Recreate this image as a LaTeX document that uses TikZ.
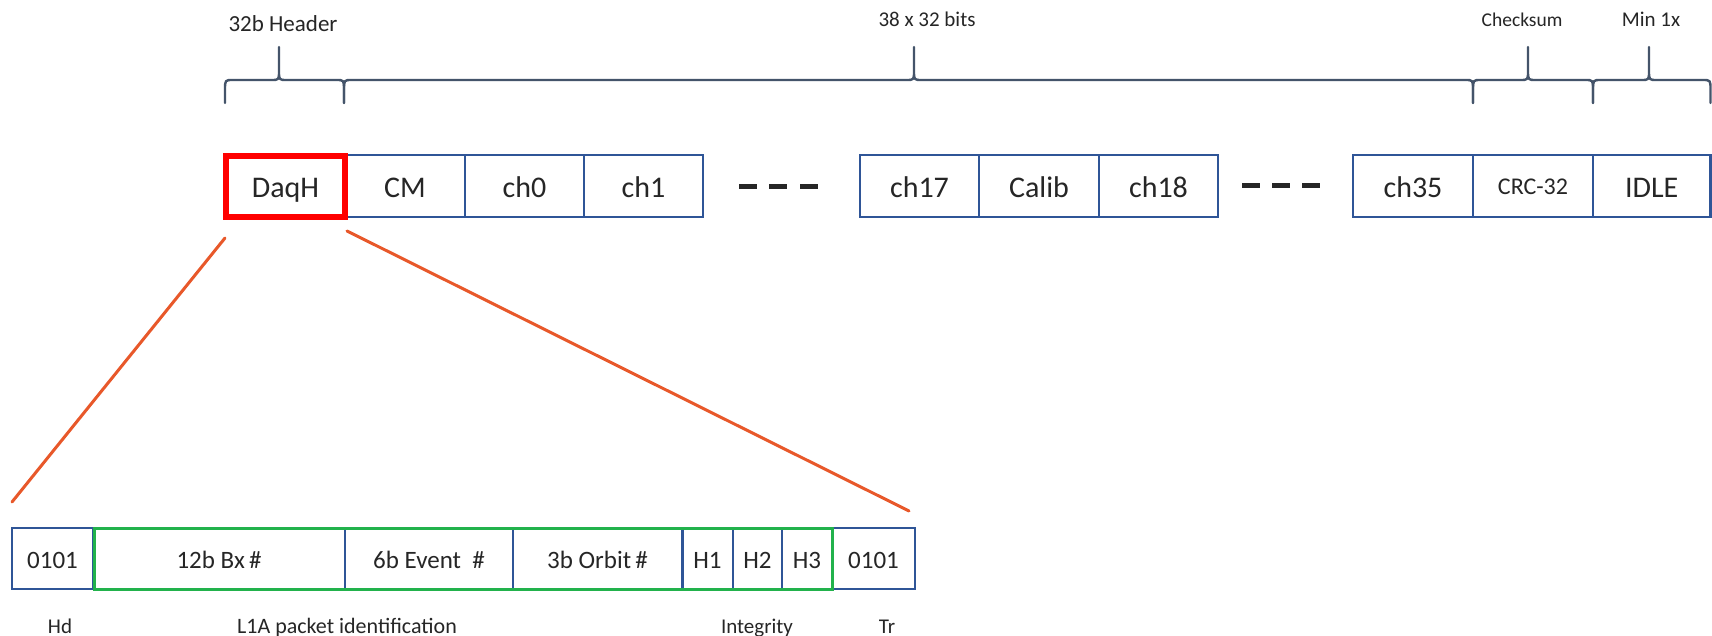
\documentclass[tikz,border=0pt]{standalone}
\usepackage{fontspec}
\setmainfont{Carlito}
\definecolor{boxblue}{HTML}{2F5597}
\definecolor{braceg}{HTML}{44546A}
\definecolor{grn}{HTML}{22B24C}
\definecolor{org}{HTML}{E8582A}
\definecolor{txt}{HTML}{262626}
\begin{document}
\begin{tikzpicture}[x=1pt,y=-1pt,
  box/.style={draw=boxblue, line width=2.5pt, minimum height=62pt, inner sep=0pt, outer sep=0pt,
    text=txt, font=\fontsize{30}{30}\selectfont, text height=23pt, text depth=0pt},
  lowbox/.style={box, minimum height=61pt, font=\fontsize{25}{25}\selectfont, text height=19pt},
  redbox/.style={box, draw=red, line width=6pt, minimum height=61pt},
  lbl/.style={inner sep=0pt, text=txt, font=\fontsize{21}{21}\selectfont},
  bracel/.style={draw=braceg, line width=2.4pt, line join=round, line cap=round},
  grnline/.style={draw=grn, line width=3pt},
  orgline/.style={draw=org, line width=3pt, line cap=round},
  dashline/.style={draw=black!85, line width=5pt}]
\useasboundingbox (0,0) rectangle (1712,636);
\fill[white] (0,0) rectangle (1712,636);

% top row
\node[box, minimum width=120pt] (cm) at (405,186) {CM};
\node[box, minimum width=119pt] (ch0) at (524.5,186) {ch0};
\node[box, minimum width=119pt] (ch1) at (643.5,186) {ch1};
\node[box, minimum width=119pt] (ch17) at (919.5,186) {ch17};
\node[box, minimum width=120pt] (calib) at (1039,186) {Calib};
\node[box, minimum width=119pt] (ch18) at (1158.5,186) {ch18};
\node[box, minimum width=120pt] (ch35) at (1413,186) {ch35};
\node[box, minimum width=120pt, font=\fontsize{24}{24}\selectfont, text height=18pt] (crc) at (1533,186) {CRC-32};
\node[box, minimum width=117.5pt] (idle) at (1651.75,186) {IDLE};
\node[redbox, minimum width=119pt] (daqh) at (285.5,186.5) {DaqH};

% dashes
\foreach \x in {739,769,800} \draw[dashline] (\x,187) -- ++(18,0);
\foreach \x in {1242,1272,1302} \draw[dashline] (\x,186) -- ++(18,0);

% braces
\foreach \a/\t/\b in {225/279/344, 344/914/1473, 1473/1528/1593, 1593/1649/1710.5}
  \draw[bracel] (\a,103) -- (\a,90) .. controls (\a,80) .. (\a+8,80) -- (\t-8,80)
     .. controls (\t,80) .. (\t,71) -- (\t,47) -- (\t,71) .. controls (\t,80) .. (\t+8,80)
     -- (\b-8,80) .. controls (\b,80) .. (\b,90) -- (\b,103);

\node[lbl, anchor=base, font=\fontsize{23}{23}\selectfont] (hdr) at (283,32) {32b Header};
\node[lbl, anchor=base] (bits) at (927,27) {38 x 32 bits};
\node[lbl, anchor=base, font=\fontsize{19.5}{19.5}\selectfont] (chk) at (1522,27) {Checksum};
\node[lbl, anchor=base] (minx) at (1651,27) {Min 1x};

% bottom row
\node[lowbox, minimum width=81pt] (hd0) at (52.5,558.5) {0101};
\node[lowbox, minimum width=252pt] (bx) at (219,558.5) {12b Bx\,\#};
\node[lowbox, minimum width=168pt] (ev) at (429,558.5) {6b Event \ \#};
\node[lowbox, minimum width=169pt] (orb) at (597.5,558.5) {3b Orbit\,\#};
\node[lowbox, minimum width=51pt] (h1) at (707.5,558.5) {H1};
\node[lowbox, minimum width=49pt] (h2) at (757.5,558.5) {H2};
\node[lowbox, minimum width=50pt] (h3) at (807,558.5) {H3};
\node[lowbox, minimum width=83pt] (tr0) at (873.5,558.5) {0101};
\draw[grnline] ([xshift=1pt]bx.north west) rectangle (h3.south east);
\draw[draw=boxblue, line width=3pt] ([yshift=-1.5pt]orb.north east) -- ([yshift=1.5pt]orb.south east);
\foreach \n in {bx,ev,h1,h2}
  \draw[draw=boxblue, line width=2.5pt] ([yshift=-1.5pt]\n.north east) -- ([yshift=1.5pt]\n.south east);

\node[lbl, anchor=base] (hd) at (60,633) {Hd};
\node[lbl, anchor=base, font=\fontsize{22}{22}\selectfont] (l1a) at (347,633) {L1A packet identification};
\node[lbl, anchor=base] (integ) at (757,633) {Integrity};
\node[lbl, anchor=base] (tr) at (887,633) {Tr};

% zoom lines
\coordinate (l1) at (225,238);
\coordinate (l2) at (12,502);
\coordinate (r1) at (347,231);
\coordinate (r2) at (909,511);
\draw[orgline] (l1) -- (l2);
\draw[orgline] (r1) -- (r2);
\end{tikzpicture}
\end{document}
